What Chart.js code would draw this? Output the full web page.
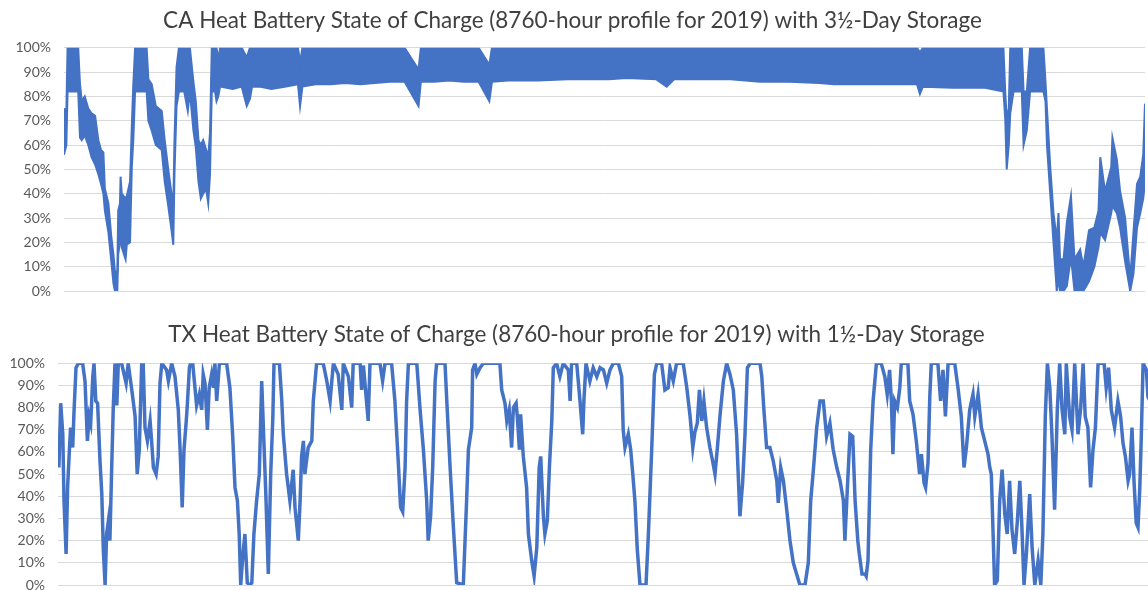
<!DOCTYPE html>
<html>
<head>
<meta charset="utf-8">
<script src="https://cdn.jsdelivr.net/npm/chart.js@4.4.1/dist/chart.umd.min.js"></script>
<style>
  html, body { margin:0; padding:0; background:#fff; overflow:hidden; width:1148px; height:590px; }
  .caja { position:absolute; left:0; }
  #cajaCA { top:0; width:1148px; height:300px; }
  #cajaTX { top:300px; width:1160px; height:290px; }
</style>
</head>
<body>
<div class="caja" id="cajaCA"><canvas id="chartCA" width="1148" height="300"></canvas></div>
<div class="caja" id="cajaTX"><canvas id="chartTX" width="1160" height="290"></canvas></div>
<script>
// CA: dia del año, maximo y minimo diario del estado de carga (%)
const caDia = [0,0.8,1.2,4.8,5.4,6.0,7.0,8.2,9.3,10.5,11.6,12.5,13.3,13.8,15.0,16.0,16.7,17.2,18.0,18.3,18.9,19.1,19.5,20.8,21.2,22.3,22.9,23.4,24.0,27.9,28.5,29.6,31.0,33.0,34.0,35.2,36.3,36.9,37.3,38.0,38.8,40.6,41.8,42.5,43.7,44.5,45.4,46.2,47.0,48.0,48.7,49.3,49.9,51.0,51.5,52.1,52.7,57,60,61.7,62.8,63.5,66,70,75,79.0,79.7,80.5,85,90,95,100,110,115,119.7,120.5,125,130,135,140,143.6,144.5,150,160,170,184,190,200,203.5,206,215,225,235,245,255,260,270,280,288,289,290,300,311,317.2,317.8,318.3,319.0,319.5,320.6,323.4,324.0,325.1,326.2,330.7,331.4,331.9,333.0,334.1,335.2,335.8,336.3,337.5,338.6,340.0,341.2,343.1,344.2,346.1,347.9,349.3,349.9,351.5,353.6,354.0,355.5,356.6,358.3,360.0,361.1,362.3,363.4,364.4,365];
const caMax = [75,74,100,100,85,78,80,75,73,72,62,58,57,42,36,22,15,8,8,33,36,47,40,38,39,45,68,85,100,100,87,85,76,74,62,50,40,35,62,92,100,100,100,100,86,78,62,60,62,58,55,65,100,100,100,95,100,100,100,96,100,100,100,100,100,100,94,100,100,100,100,100,100,100,91,100,100,100,100,100,93,100,100,100,100,100,100,100,100,100,100,100,100,100,100,100,100,100,100,98,100,100,100,100,82,71,75,100,100,100,82,82,100,100,86,75,51,32,21,32,13,13,28,39,13,17,10,25,26,33,55,41,51,63,54,41,30,5,24,44,47,56,77];
const caMin = [56,60,82,82,63,62,64,60,55,52,48,44,40,33,24,12,3,0,0,15,20,28,18,13,19,20,51,62,82,82,70,66,60,58,45,35,25,19,48,76,82,82,74,82,66,59,45,38,40,42,36,48,82,82,78,80,84,83,84,76,79,84,84,83,84,85,76,84,85,85,85.5,85,86,86,76,86,86,86.5,86,86,78,86,86.5,86.5,87,87,87.5,87,84,87,87,87,86,86,85.5,85,85,85,85,81,84,83.5,83.5,82,71,50,60,73,82,82,60,66,82,82,78,60,40,20,0,5,0,0,2,14,0,0,0,4,10,18,24,21,32,35,32,26,12,0,7,26,32,38,45];

// TX: dia del año y estado de carga (%)
const txDia = [0,0.3,0.9,1.6,2.0,2.7,3.2,3.8,4.2,4.9,5.3,6.0,6.8,8.2,9.0,9.8,10.4,10.9,11.6,12.0,12.6,13.2,14.0,14.6,15.1,15.7,16.2,16.8,17.3,17.9,18.4,19.0,19.6,20.1,21.2,22.7,23.4,24.6,25.7,26.4,27.1,27.9,28.4,29.0,29.8,30.7,31.2,31.8,32.7,33.4,34.0,34.6,36.2,36.8,37.9,39.0,40.1,40.7,41.4,42.0,42.7,43.1,43.8,44.2,44.9,46.2,47.1,47.9,48.4,49.0,49.8,50.4,51.2,51.8,52.3,52.9,53.8,56.2,57.3,58.2,59.0,59.8,60.4,60.9,61.6,62.3,63.1,64.0,64.6,65.3,66.2,67.1,67.9,68.7,69.3,70.1,70.9,71.6,72.0,73.8,74.6,75.1,76.2,77.3,78.4,79.0,80.1,80.7,81.2,81.8,82.3,83.4,84.6,85.1,86.2,88.4,89.6,90.7,91.2,91.8,93.4,94.6,95.1,96.8,97.9,98.4,100.7,101.2,101.8,103.4,104.0,107.3,108.2,109.0,111.2,112.3,113.4,114.2,114.9,115.7,116.2,116.8,119.6,120.7,121.8,122.9,123.4,124.2,124.9,125.7,126.2,129.0,129.6,130.7,131.8,132.9,135.1,136.2,136.8,137.9,138.2,139.0,139.6,140.7,141.8,147.3,147.9,149.0,149.6,150.4,151.2,151.8,152.7,153.1,153.8,154.2,155.1,156.2,156.8,157.9,158.7,159.6,160.4,160.9,161.8,162.3,163.1,163.8,164.6,165.1,166.2,167.3,168.4,170.1,170.7,171.2,172.9,174.0,174.9,175.3,176.0,177.3,178.4,179.6,180.7,181.8,182.9,184.0,185.1,186.8,187.9,188.4,189.0,190.1,190.9,191.6,192.3,193.1,194.0,196.0,196.8,197.9,198.8,199.6,201.2,202.3,203.4,204.0,205.1,206.2,208.4,209.6,210.7,211.6,212.3,213.1,213.8,214.6,215.3,216.2,217.3,218.2,219.0,219.8,220.7,221.8,222.9,224.0,225.1,226.2,227.3,228.2,229.0,229.8,230.7,234.0,234.6,235.3,236.2,237.3,238.4,239.6,240.1,240.9,241.8,242.9,244.0,245.1,246.2,247.3,249.0,250.1,250.9,251.8,252.9,254.0,255.1,256.2,257.3,258.4,259.6,260.7,261.8,262.3,263.1,264.0,264.9,265.7,266.6,267.1,268.0,269.0,269.4,270.0,270.9,271.7,272.8,274.4,275.6,276.4,277.2,277.8,278.3,278.9,279.8,280.6,281.1,283.3,283.9,285.0,286.1,287.2,287.8,288.7,289.2,290.0,290.6,291.1,293.3,294.2,295.0,295.8,296.7,298.9,300.0,301.1,302.0,302.8,303.9,305.0,305.6,306.7,307.8,308.9,310.0,310.6,311.1,311.7,312.2,313.1,313.9,314.7,315.6,316.4,317.2,318.0,318.9,319.8,320.6,321.3,322.0,322.8,323.9,324.7,325.6,326.7,327.6,328.3,329.1,329.8,330.6,331.3,332.2,333.1,333.9,334.7,335.6,336.1,337.2,338.0,338.9,340.0,340.9,341.7,342.4,343.3,344.2,345.0,345.8,346.7,348.7,349.4,350.2,351.1,352.2,353.3,354.2,355.0,355.8,356.7,357.2,358.0,358.7,359.4,360.0,360.6,361.1,361.7,362.8,363.3,365];
const txCarga = [62,53,82,68,38,14,44,61,71,62,77,98,100,100,92,65,76,73,94,100,83,82,56,41,16,0,23,29,20,53,79,100,81,100,100,91,100,88,76,50,61,100,100,71,65,74,65,53,50,58,91,100,97,92,100,94,79,61,35,61,73,81,98,100,100,81,86,79,95,91,70,89,95,89,100,83,100,100,89,68,44,38,23,0,13,23,1,0,1,23,38,50,92,62,40,5,50,75,100,100,83,68,50,38,52,35,20,38,58,65,50,62,65,83,100,100,92,83,91,100,95,79,100,94,80,100,100,88,99,74,100,100,92,100,100,83,56,35,33,53,83,100,100,79,61,38,20,31,53,92,100,100,83,53,26,1,0,38,61,71,97,100,95,98,100,100,88,82,74,79,62,80,82,76,61,77,58,44,23,11,4,17,53,58,31,23,29,53,74,98,100,94,100,97,83,100,100,83,68,83,100,92,98,94,98,97,91,97,100,100,94,70,62,68,61,50,38,16,0,0,23,61,95,100,100,88,89,98,92,100,100,89,76,62,69,73,88,74,83,71,62,56,50,62,77,92,100,95,88,68,31,46,68,98,100,100,94,79,62,62,56,47,37,53,47,34,20,10,5,0,0,10,38,52,71,83,83,67,73,61,53,47,38,20,43,68,67,38,20,14,5,5,4,11,61,83,100,100,94,86,97,83,59,83,80,89,100,100,83,77,65,50,59,46,44,55,85,100,100,83,97,76,100,100,89,76,53,62,79,86,76,86,71,65,59,53,50,23,0,2,38,52,32,23,47,25,14,29,47,26,0,14,41,17,0,11,0,23,76,100,89,68,34,79,100,79,68,100,76,70,100,68,80,100,76,71,44,61,71,100,100,89,98,79,71,83,76,64,58,47,50,71,46,28,26,44,67,100,97,85,80];

const azul = '#4472C4';

function ejeY(ancho) {
  return {
    min: 0, max: 100,
    ticks: { stepSize: 10, callback: v => v + '%', color: '#595959', font: { family: 'Lato', size: 14 }, padding: 13 },
    grid: { color: '#d9d9d9', lineWidth: 1, drawTicks: false },
    border: { display: false },
    afterFit: s => { s.width = ancho; s.paddingTop = 0; s.paddingBottom = 0; }
  };
}

function ejeX() {
  return { type: 'linear', min: 0, max: 365, display: false };
}

function titulo(texto, arriba, abajo) {
  return {
    display: true, text: texto, color: '#404040',
    font: { family: 'Lato', size: 22.5, weight: 'normal' },
    padding: { top: arriba, bottom: abajo }
  };
}

function puntos(xs, ys) {
  return xs.map((x, i) => ({ x: x, y: ys[i] }));
}

new Chart(document.getElementById('chartCA'), {
  type: 'line',
  data: {
    datasets: [
      { label: 'Max', data: puntos(caDia, caMax), borderColor: azul, borderWidth: 2, pointRadius: 0, fill: false, tension: 0 },
      { label: 'Min', data: puntos(caDia, caMin), borderColor: azul, borderWidth: 2, pointRadius: 0, fill: '-1', backgroundColor: azul, tension: 0 }
    ]
  },
  options: {
    responsive: false, animation: false, events: [],
    layout: { padding: { left: 0, right: 3, top: 0, bottom: 9 } },
    scales: { x: ejeX(), y: ejeY(64) },
    plugins: {
      legend: { display: false },
      tooltip: { enabled: false },
      title: titulo('CA Heat Battery State of Charge (8760-hour profile for 2019) with 3\u00BD-Day Storage', 7.5, 13.2)
    }
  }
});

new Chart(document.getElementById('chartTX'), {
  type: 'line',
  data: {
    datasets: [
      { label: 'SOC', data: puntos(txDia, txCarga), borderColor: azul, borderWidth: 3.5, pointRadius: 0, fill: false, tension: 0 }
    ]
  },
  options: {
    responsive: false, animation: false, events: [],
    layout: { padding: { left: 0, right: 7, top: 0, bottom: 5 } },
    scales: { x: ejeX(), y: ejeY(58) },
    plugins: {
      legend: { display: false },
      tooltip: { enabled: false },
      title: titulo('TX Heat Battery State of Charge (8760-hour profile for 2019) with 1\u00BD-Day Storage', 21.5, 14.8)
    }
  }
});
</script>
</body>
</html>
